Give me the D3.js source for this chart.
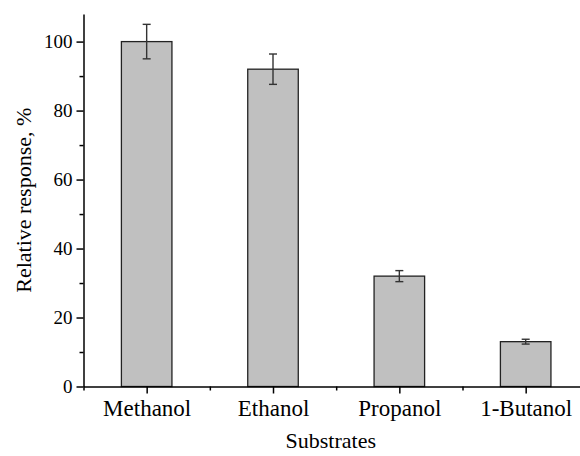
<!DOCTYPE html>
<html>
<head>
<meta charset="utf-8">
<script src="https://cdn.jsdelivr.net/npm/d3@7"></script>
</head>
<body>
<div id="chart"></div>
<script>
// data
const substrates = ["Methanol", "Ethanol", "Propanol", "1-Butanol"];
const response = [100, 92, 32, 13];
const errors = [5, 4.4, 1.6, 0.7];
const yTicks = [0, 20, 40, 60, 80, 100];
const yMinor = [10, 30, 50, 70, 90];

const w = 580, h = 456;
const plotLeft = 83.5, plotBottom = 386.5, plotTop = 14, plotRight = 580;
const serif = '"Liberation Serif"';

d3.select("body").style("margin", "0");

const svg = d3.select("#chart").append("svg")
  .attr("width", w)
  .attr("height", h)
  .style("display", "block");

// categories sit at 1..4, axis starts half a step before the first one
const x = d3.scaleLinear().domain([0.5, 4.43]).range([plotLeft, plotRight]);
const y = d3.scaleLinear().domain([0, 108]).range([plotBottom, plotTop]);
const step = x(2) - x(1);
const barW = step * 0.4;

// bars
svg.append("g")
  .selectAll("rect")
  .data(response)
  .enter()
  .append("rect")
  .attr("x", (d, i) => x(i + 1) - barW / 2)
  .attr("y", d => y(d))
  .attr("width", barW)
  .attr("height", d => y(0) - y(d))
  .attr("fill", "#c0c0c0")
  .attr("stroke", "#222")
  .attr("stroke-width", 1.3);

// error bars
const err = svg.append("g")
  .attr("stroke", "#333")
  .attr("stroke-width", 1.4);
response.forEach((d, i) => {
  const cx = x(i + 1), e = errors[i];
  err.append("line").attr("x1", cx).attr("x2", cx).attr("y1", y(d + e)).attr("y2", y(d - e));
  err.append("line").attr("x1", cx - 4).attr("x2", cx + 4).attr("y1", y(d + e)).attr("y2", y(d + e));
  err.append("line").attr("x1", cx - 4).attr("x2", cx + 4).attr("y1", y(d - e)).attr("y2", y(d - e));
});

// y axis
const yAxis = svg.append("g")
  .attr("transform", `translate(${plotLeft},0)`)
  .call(d3.axisLeft(y).tickValues(yTicks).tickSize(7).tickSizeOuter(0).tickPadding(4));
svg.append("g")
  .attr("transform", `translate(${plotLeft},0)`)
  .call(d3.axisLeft(y).tickValues(yMinor).tickSize(4).tickFormat(""))
  .select(".domain").remove();

// x axis
const xAxis = svg.append("g")
  .attr("transform", `translate(0,${plotBottom})`)
  .call(d3.axisBottom(x).tickValues([1, 2, 3, 4]).tickSize(7).tickSizeOuter(0)
    .tickPadding(6).tickFormat(d => substrates[d - 1]));
svg.append("g")
  .attr("transform", `translate(0,${plotBottom})`)
  .call(d3.axisBottom(x).tickValues([0.5, 1.5, 2.5, 3.5]).tickSize(4).tickFormat(""))
  .select(".domain").remove();

svg.selectAll(".domain, .tick line")
  .attr("stroke", "#000")
  .attr("stroke-width", 1.5);
yAxis.selectAll("text")
  .style("font-family", serif).style("font-size", "19px").attr("fill", "#000");
xAxis.selectAll("text")
  .style("font-family", serif).style("font-size", "23px").attr("fill", "#000");

// axis titles
svg.append("text")
  .attr("x", (plotLeft + plotRight) / 2 - 1)
  .attr("y", 448)
  .attr("text-anchor", "middle")
  .style("font-family", serif)
  .style("font-size", "22px")
  .text("Substrates");

svg.append("text")
  .attr("transform", `translate(31,${(plotTop + plotBottom) / 2}) rotate(-90)`)
  .attr("text-anchor", "middle")
  .style("font-family", serif)
  .style("font-size", "22px")
  .text("Relative response, %");
</script>
</body>
</html>
